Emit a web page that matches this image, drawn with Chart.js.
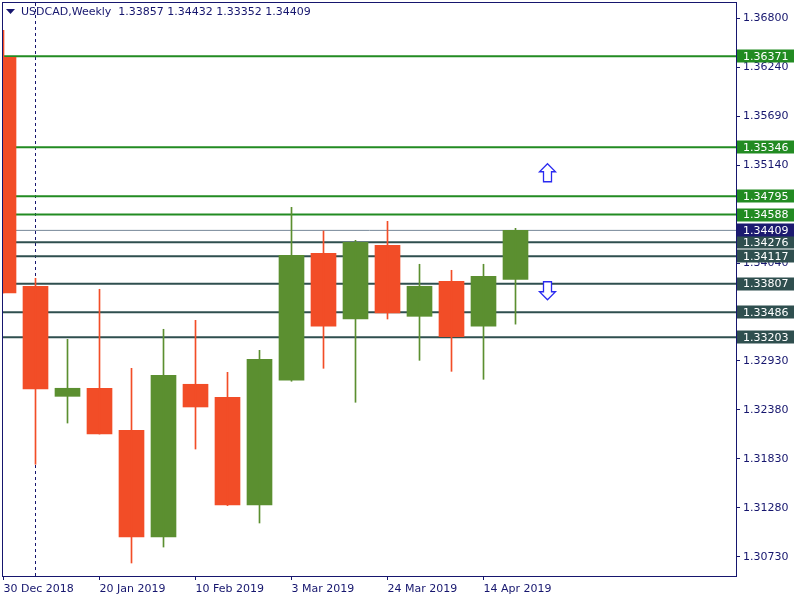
<!DOCTYPE html>
<html>
<head>
<meta charset="utf-8">
<title>USDCAD Weekly</title>
<script src="https://cdn.jsdelivr.net/npm/chart.js@4.4.1/dist/chart.umd.min.js"></script>
<style>
  html, body { margin: 0; padding: 0; background: #ffffff; }
  #wrap { width: 800px; height: 600px; }
</style>
</head>
<body>
<div id="wrap"><canvas id="myChart" width="800" height="600"></canvas></div>
<script>
"use strict";

// weekly candles, bar 0 = week of 30 Dec 2018
const symbol = 'USDCAD,Weekly';
const opens  = [1.36360, 1.33779, 1.32538, 1.32629, 1.32155, 1.30952, 1.32674, 1.32527, 1.31313, 1.32719, 1.34151, 1.33410, 1.34241, 1.33440, 1.33835, 1.33328, 1.33857];
const highs  = [1.36665, 1.33869, 1.33181, 1.33745, 1.32854, 1.33294, 1.33395, 1.32809, 1.33057, 1.34669, 1.34402, 1.34297, 1.34511, 1.34027, 1.33959, 1.34027, 1.34432];
const lows   = [1.33703, 1.31772, 1.32237, 1.32113, 1.30659, 1.30839, 1.31944, 1.31306, 1.31110, 1.32708, 1.32854, 1.32471, 1.33410, 1.32944, 1.32820, 1.32730, 1.33352];
const closes = [1.33703, 1.32621, 1.32629, 1.32113, 1.30952, 1.32775, 1.32418, 1.31313, 1.32956, 1.34128, 1.33328, 1.34275, 1.33478, 1.33779, 1.33210, 1.33891, 1.34409];

// axis ticks
const xTickBars   = [0, 3, 6, 9, 12, 15];
const xTickLabels = ['30 Dec 2018', '20 Jan 2019', '10 Feb 2019', '3 Mar 2019', '24 Mar 2019', '14 Apr 2019'];
const yTickValues = [1.30730, 1.31282, 1.31834, 1.32385, 1.32937, 1.33489, 1.34041, 1.34592, 1.35144, 1.35696, 1.36248, 1.36800];
const yTickLabels = ['1.30730', '1.31280', '1.31830', '1.32380', '1.32930', '1.33490', '1.34040', '1.34590', '1.35140', '1.35690', '1.36240', '1.36800'];

// horizontal levels
const greenLevels = [1.36371, 1.35346, 1.34795, 1.34588];
const darkLevels  = [1.34276, 1.34117, 1.33807, 1.33486, 1.33203];
const bidPrice    = closes[closes.length - 1];

// period separator + arrow objects
const separatorBars = [1];
const upArrows   = [{ bar: 17, price: 1.35160 }];
const downArrows = [{ bar: 17, price: 1.33830 }];

const bullColor = '#5b8f30';
const bearColor = '#f24d27';
const navy = '#16166e';
const fontFamily = '"DejaVu Sans", Verdana, sans-serif';

const bars = opens.map((o, i) => i);
const candleColors = bars.map(i => closes[i] >= opens[i] ? bullColor : bearColor);

const ctx = document.getElementById('myChart').getContext('2d');

const mtPlugin = {
  id: 'mtPlugin',
  beforeDatasetsDraw(chart) {
    const { ctx, chartArea: a, scales: { x, y } } = chart;
    ctx.save();
    ctx.beginPath();
    ctx.rect(a.left, a.top, a.right - a.left, a.bottom - a.top);
    ctx.clip();

    // dashed period separator
    ctx.strokeStyle = navy;
    ctx.lineWidth = 1;
    ctx.setLineDash([3, 3]);
    separatorBars.forEach(b => {
      const px = Math.floor(x.getPixelForValue(b)) + 0.5;
      ctx.beginPath();
      ctx.moveTo(px, a.top);
      ctx.lineTo(px, a.bottom);
      ctx.stroke();
    });
    ctx.setLineDash([]);

    const hline = (p, color, w) => {
      const py = y.getPixelForValue(p);
      ctx.strokeStyle = color;
      ctx.lineWidth = w;
      ctx.beginPath();
      ctx.moveTo(a.left, py);
      ctx.lineTo(a.right, py);
      ctx.stroke();
    };
    greenLevels.forEach(p => hline(p, '#228b22', 2));
    darkLevels.forEach(p => hline(p, '#2f4f4f', 2));
    hline(bidPrice, '#778899', 1);
    ctx.restore();
  },
  afterDatasetsDraw(chart) {
    const { ctx, scales: { x, y } } = chart;
    ctx.save();
    ctx.fillStyle = '#ffffff';
    ctx.strokeStyle = '#2a2af0';
    ctx.lineWidth = 1.3;
    const arrow = (cx, tip, dir) => {
      // dir -1 = up, +1 = down
      const pts = [[0, 0], [8, 8], [4, 8], [4, 18], [-4, 18], [-4, 8], [-8, 8]];
      ctx.beginPath();
      pts.forEach(([dx, dy], k) => {
        const px = cx + dx, py = tip - dir * dy;
        k === 0 ? ctx.moveTo(px, py) : ctx.lineTo(px, py);
      });
      ctx.closePath();
      ctx.fill();
      ctx.stroke();
    };
    upArrows.forEach(o => arrow(x.getPixelForValue(o.bar), y.getPixelForValue(o.price), -1));
    downArrows.forEach(o => arrow(x.getPixelForValue(o.bar), y.getPixelForValue(o.price) + 18, 1));
    ctx.restore();
  },
  afterDraw(chart) {
    const { ctx, chartArea: a, scales: { y } } = chart;
    ctx.save();
    // frame
    ctx.strokeStyle = navy;
    ctx.lineWidth = 1;
    ctx.strokeRect(a.left - 0.5, a.top - 0.5, a.right - a.left + 1, a.bottom - a.top + 1);

    // price boxes on the axis
    ctx.font = '11px ' + fontFamily;
    ctx.textBaseline = 'middle';
    ctx.textAlign = 'left';
    const box = (p, bg) => {
      const py = y.getPixelForValue(p);
      ctx.fillStyle = bg;
      ctx.fillRect(a.right + 1, Math.round(py) - 6.5, 57, 13);
      ctx.fillStyle = '#ffffff';
      ctx.fillText(p.toFixed(5), a.right + 7, py + 0.5);
    };
    greenLevels.forEach(p => box(p, '#228b22'));
    darkLevels.forEach(p => box(p, '#2f4f4f'));
    box(bidPrice, '#1c1a70');

    // header
    ctx.fillStyle = navy;
    ctx.beginPath();
    ctx.moveTo(6, 9);
    ctx.lineTo(15, 9);
    ctx.lineTo(10.5, 14);
    ctx.closePath();
    ctx.fill();
    const last = opens.length - 1;
    const header = symbol + '  ' + [opens[last], highs[last], lows[last], closes[last]].map(v => v.toFixed(5)).join(' ');
    ctx.fillText(header, 21, 12);
    ctx.restore();
  }
};

new Chart(ctx, {
  type: 'bar',
  data: {
    datasets: [
      {
        label: 'wick',
        data: bars.map(i => ({ x: i, y: [lows[i], highs[i]] })),
        backgroundColor: candleColors,
        barThickness: 1,
        grouped: false,
        clip: 0
      },
      {
        label: 'body',
        data: bars.map(i => ({ x: i, y: [opens[i], closes[i]] })),
        backgroundColor: candleColors,
        barThickness: 25,
        grouped: false,
        clip: 0
      }
    ]
  },
  options: {
    responsive: false,
    animation: false,
    devicePixelRatio: 1,
    layout: { padding: { left: 3, top: 3, right: 0, bottom: 0 } },
    plugins: { legend: { display: false }, tooltip: { enabled: false } },
    scales: {
      x: {
        type: 'linear',
        offset: false,
        min: -0.015625,
        max: -0.015625 + 733 / 32,
        afterBuildTicks: (s) => { s.ticks = xTickBars.map(v => ({ value: v })); },
        afterFit: (s) => { s.height = 24; s.paddingLeft = 0; s.paddingRight = 0; },
        grid: { offset: false, drawOnChartArea: false, drawTicks: true, tickLength: 4, color: navy },
        border: { display: false },
        ticks: {
          autoSkip: false,
          maxRotation: 0,
          align: 'start',
          padding: 3,
          color: navy,
          font: { family: fontFamily, size: 11 },
          callback: (v, i) => xTickLabels[i]
        }
      },
      y: {
        type: 'linear',
        position: 'right',
        min: 1.368 - 557.7 / 8870,
        max: 1.368 + 15.3 / 8870,
        afterBuildTicks: (s) => { s.ticks = yTickValues.map(v => ({ value: v })); },
        afterFit: (s) => { s.width = 64; s.paddingTop = 0; s.paddingBottom = 0; },
        grid: { drawOnChartArea: false, drawTicks: true, tickLength: 4, color: navy },
        border: { display: false },
        ticks: {
          padding: 3,
          color: navy,
          font: { family: fontFamily, size: 11 },
          callback: (v, i) => yTickLabels[i]
        }
      }
    }
  },
  plugins: [mtPlugin]
});
</script>
</body>
</html>
